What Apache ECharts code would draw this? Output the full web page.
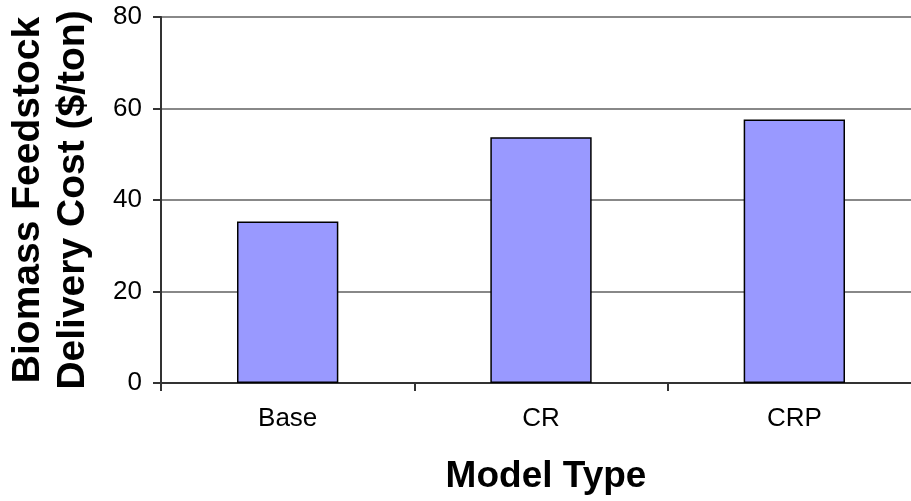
<!DOCTYPE html>
<html>
<head>
<meta charset="utf-8">
<script src="https://cdn.jsdelivr.net/npm/echarts@6/dist/echarts.min.js"></script>
<style>
  html, body { margin: 0; padding: 0; background: #fff; }
  #chart { width: 911px; height: 501px; }
</style>
</head>
<body>
<div id="chart"></div>
<script>
// values
const modelTypes = ['Base', 'CR', 'CRP'];
const deliveryCost = [35.3, 53.7, 57.6];
const yTicks = [0, 20, 40, 60, 80];

const chart = echarts.init(document.getElementById('chart'));

const option = {
  animation: false,
  textStyle: { fontFamily: 'Liberation Sans, Arial, sans-serif' },
  // plot runs a little past the right edge in the original
  grid: { left: 161, width: 760, top: 17, bottom: 118, outerBoundsMode: 'none', containLabel: false },
  xAxis: {
    type: 'category',
    data: modelTypes,
    name: 'Model Type',
    nameLocation: 'middle',
    nameGap: 75,
    nameTextStyle: { fontSize: 37, fontWeight: 'bold', color: '#000', lineHeight: 37, padding: [0, 0, 0, 10] },
    axisLine: { lineStyle: { color: '#333', width: 2 } },
    axisTick: { show: true, length: 8, lineStyle: { color: '#333', width: 2 } },
    axisLabel: { fontSize: 26, color: '#000', margin: 23 }
  },
  yAxis: {
    type: 'value',
    min: yTicks[0],
    max: yTicks[yTicks.length - 1],
    interval: 20,
    name: 'Biomass Feedstock\nDelivery Cost ($/ton)',
    nameLocation: 'middle',
    nameRotate: 90,
    nameGap: 65,
    nameTextStyle: { fontSize: 39, fontWeight: 'bold', color: '#000', lineHeight: 45 },
    axisLine: { show: true, lineStyle: { color: '#333', width: 2 } },
    axisTick: { show: true, length: 8, lineStyle: { color: '#333', width: 2 } },
    axisLabel: { fontSize: 26, color: '#000', margin: 19 },
    splitLine: { lineStyle: { color: '#888', width: 2 } }
  },
  series: [
    {
      type: 'bar',
      data: deliveryCost,
      barWidth: '40%',
      itemStyle: { color: '#9999ff', borderColor: '#000', borderWidth: 1.5 }
    }
  ]
};

chart.setOption(option);
</script>
</body>
</html>
